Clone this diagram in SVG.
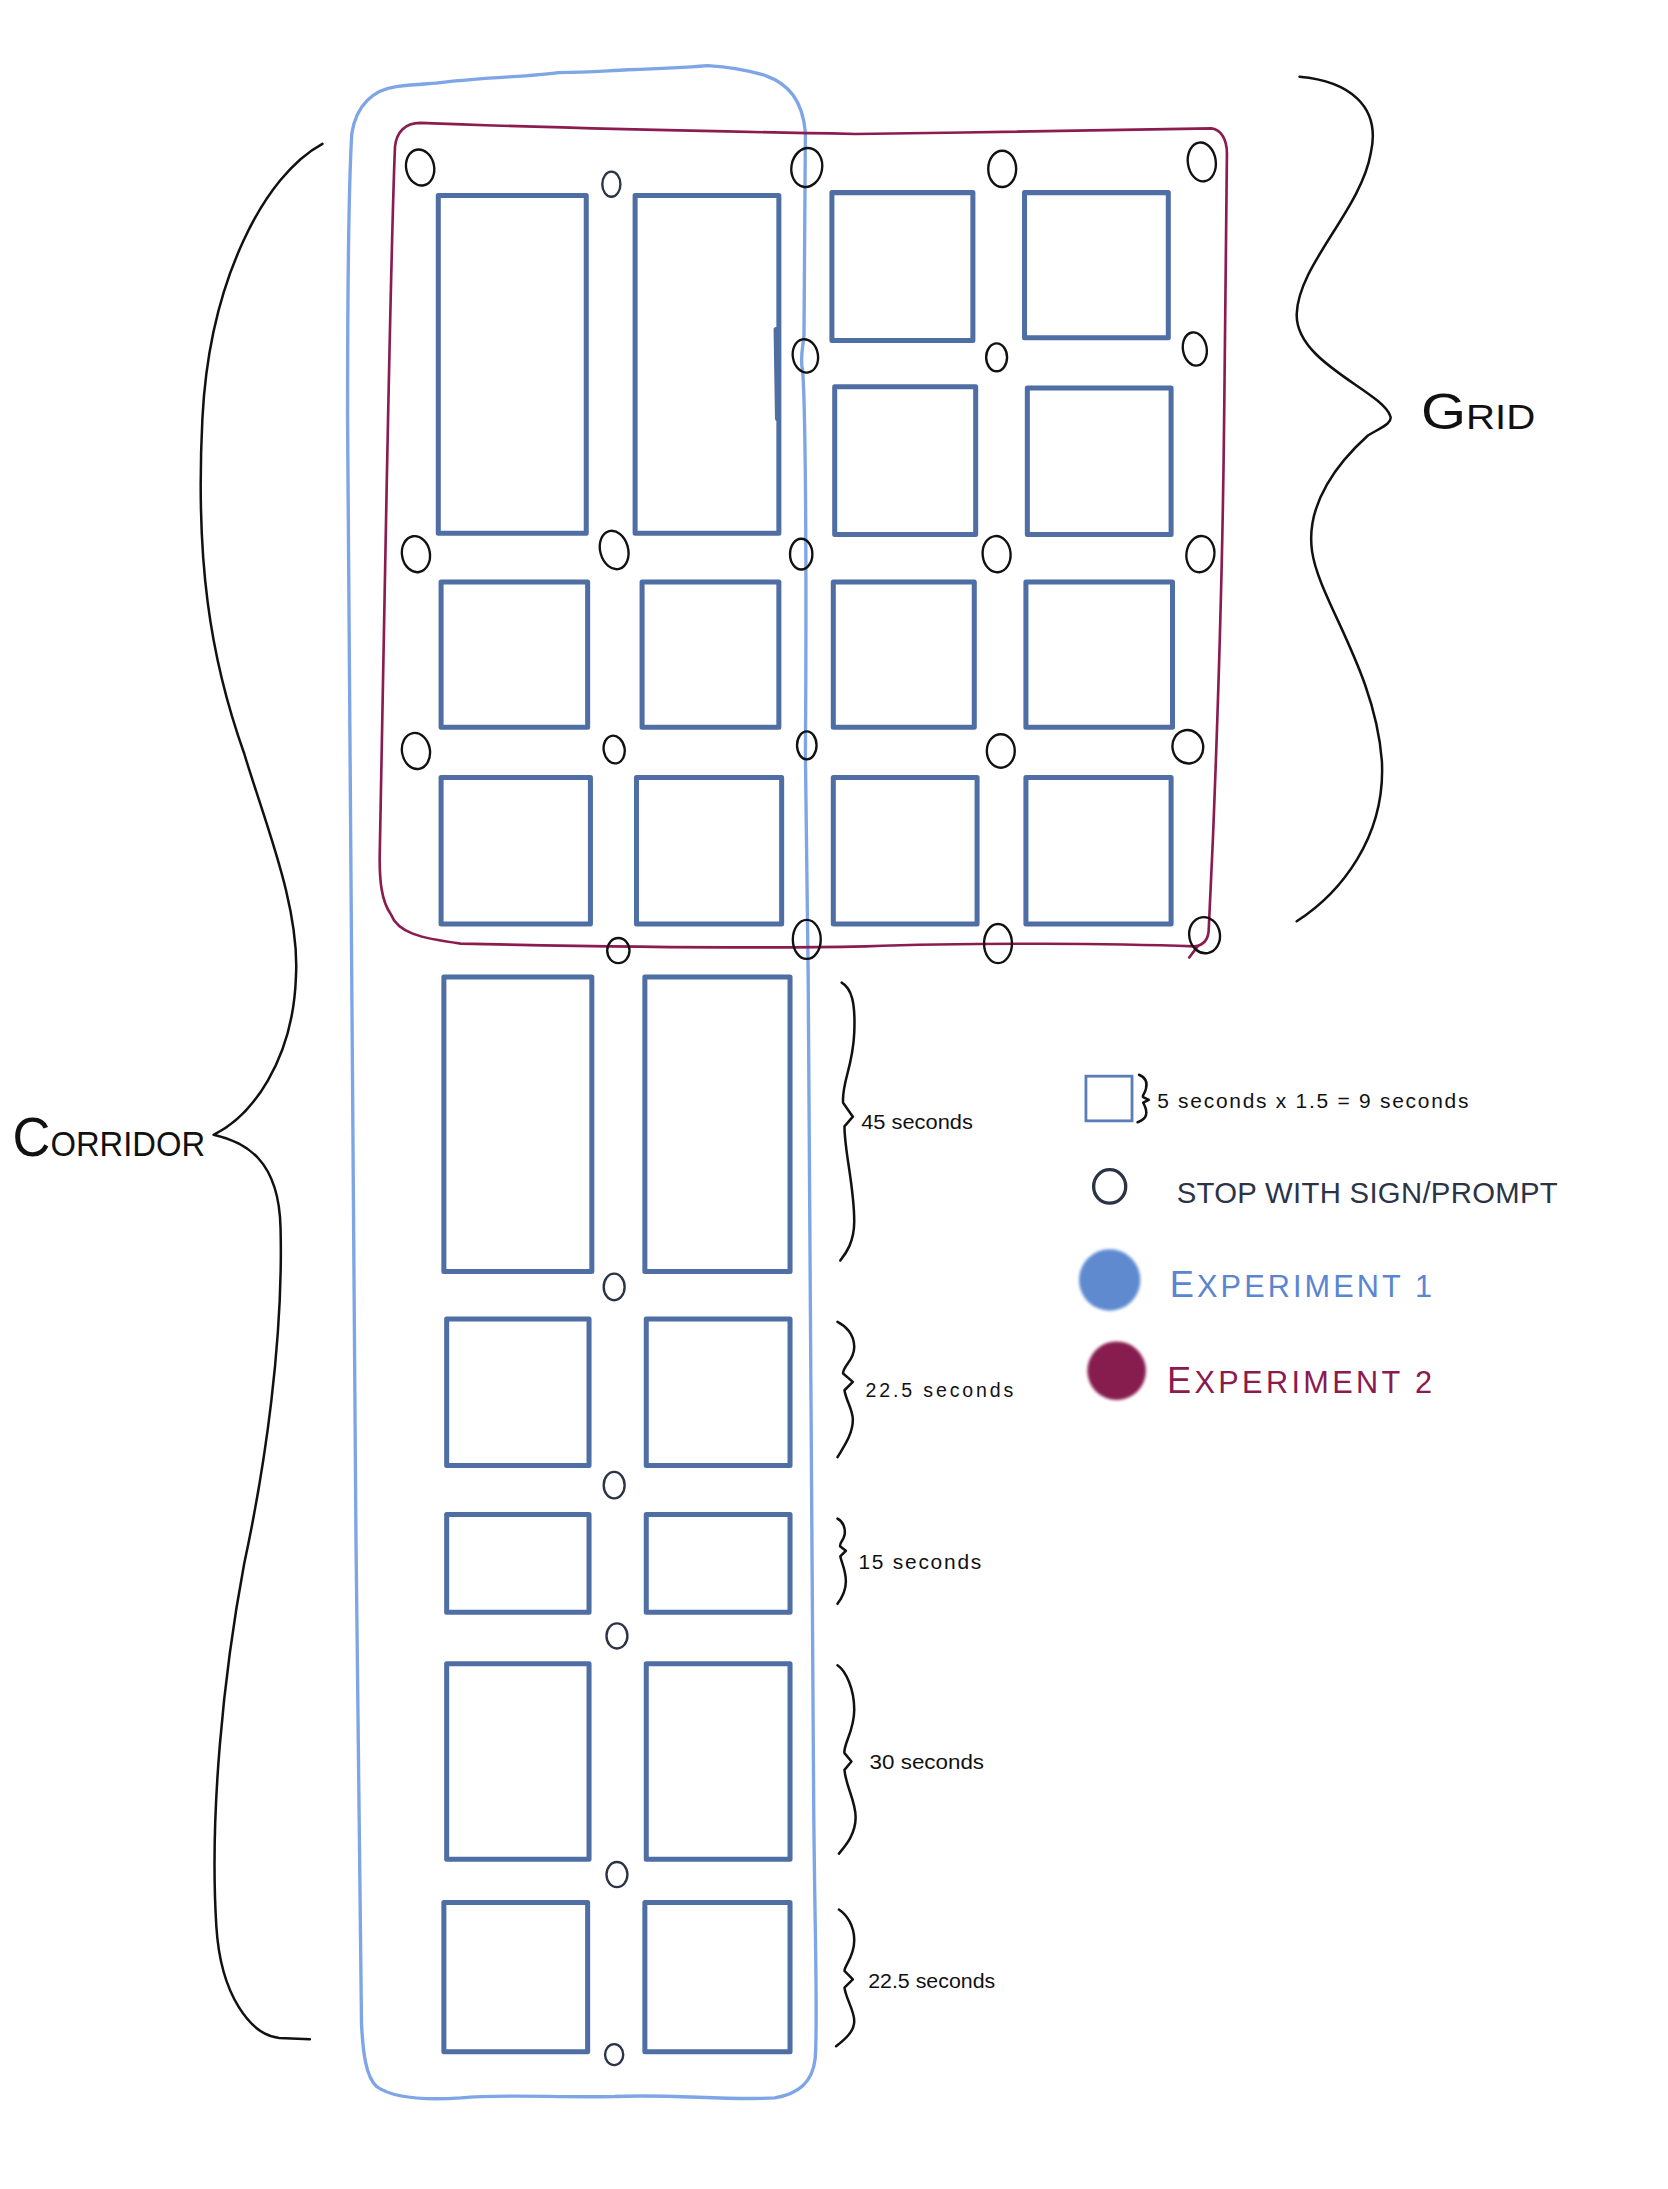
<svg xmlns="http://www.w3.org/2000/svg" width="1668" height="2189" viewBox="0 0 1668 2189">
<defs>
<style>
.room{fill:none;stroke:#4f6ea3;stroke-width:3.6;stroke-linejoin:round;stroke-linecap:round}
.stop{fill:none;stroke:#111;stroke-width:1.7}
.stopn{fill:none;stroke:#2b3446;stroke-width:1.7}
.brace{fill:none;stroke:#111;stroke-width:1.8;stroke-linecap:round;stroke-linejoin:round}
.exp1{fill:none;stroke:#7ea6e6;stroke-width:2.4;stroke-linejoin:round}
.exp2{fill:none;stroke:#8b1c50;stroke-width:1.9;stroke-linejoin:round;stroke-linecap:round}
.hand{font-family:"Liberation Sans",Arial,sans-serif;fill:#111}
</style>
<filter id="soft" x="-30%" y="-30%" width="160%" height="160%"><feGaussianBlur stdDeviation="1.3"/></filter>
</defs>
<rect width="1668" height="2189" fill="#fff"/>
<g transform="scale(1.39582)">
<!-- Experiment outlines -->
<g id="experiment1-outline">
<path class="exp1" d="M252,96 C255,75 268,64 284,62 C300,60 310,60 317,59 C350,55 380,55 400,52 C420,52 430,51 450,50 C480,49 495,48 507,47 C525,48 535,50 548,54 C565,60 575,72 577,95 L576,240 C575,250 573,258 575,265 C577,290 578,400 577,540 L579,700 C580,900 582,1100 583,1300 C584,1400 586,1450 584,1475 C582,1492 572,1500 555,1503 C520,1505 480,1500 440,1502 C400,1503 360,1500 330,1503 C300,1505 280,1502 270,1495 C262,1488 260,1470 259,1450 L255,1100 C252,800 250,500 249,300 C249,200 250,130 252,96 Z"/>
</g>
<g id="experiment2-outline">
<path class="exp2" d="M301,88 C350,90 450,93 613,96 C700,95 800,93 868,92 C875,93 879,100 879,110 L877,300 C876,400 873,500 869,600 L866,665 C866,672 863,677 856,678 C800,676 700,675 620,678 C520,680 420,678 330,676 C300,672 285,668 280,655 C273,645 272,630 272,615 L277,350 C279,250 281,150 283,105 C284,95 290,88 301,88 Z"/>
<path class="exp2" d="M858,678 L852,686"/>
</g>
<!-- Grid rooms -->
<g id="grid-rooms">
<rect id="g-r1c1" class="room" x="314" y="140" width="106" height="242"/>
<rect id="g-r1c2" class="room" x="455" y="140" width="103" height="242"/>
<path class="room" d="M556,236 L557,300"/>
<rect id="g-r1c3" class="room" x="596" y="138" width="101" height="106"/>
<rect id="g-r1c4" class="room" x="734" y="138" width="103" height="104"/>
<rect id="g-r2c3" class="room" x="598" y="277" width="101" height="106"/>
<rect id="g-r2c4" class="room" x="736" y="278" width="103" height="105"/>
<rect id="g-r3c1" class="room" x="316" y="417" width="105" height="104"/>
<rect id="g-r3c2" class="room" x="460" y="417" width="98" height="104"/>
<rect id="g-r3c3" class="room" x="597" y="417" width="101" height="104"/>
<rect id="g-r3c4" class="room" x="735" y="417" width="105" height="104"/>
<rect id="g-r4c1" class="room" x="316" y="557" width="107" height="105"/>
<rect id="g-r4c2" class="room" x="456" y="557" width="104" height="105"/>
<rect id="g-r4c3" class="room" x="597" y="557" width="103" height="105"/>
<rect id="g-r4c4" class="room" x="735" y="557" width="104" height="105"/>
</g>
<!-- Corridor rooms -->
<g id="corridor-rooms">
<rect id="c-1a" class="room" x="318" y="700" width="106" height="211"/>
<rect id="c-1b" class="room" x="462" y="700" width="104" height="211"/>
<rect id="c-2a" class="room" x="320" y="945" width="102" height="105"/>
<rect id="c-2b" class="room" x="463" y="945" width="103" height="105"/>
<rect id="c-3a" class="room" x="320" y="1085" width="102" height="70"/>
<rect id="c-3b" class="room" x="463" y="1085" width="103" height="70"/>
<rect id="c-4a" class="room" x="320" y="1192" width="102" height="140"/>
<rect id="c-4b" class="room" x="463" y="1192" width="103" height="140"/>
<rect id="c-5a" class="room" x="318" y="1363" width="103" height="107"/>
<rect id="c-5b" class="room" x="462" y="1363" width="104" height="107"/>
</g>
<!-- Stops -->
<g id="grid-stops">
<ellipse class="stop" cx="301" cy="120" rx="10" ry="13" transform="rotate(-12 301 120)"/>
<ellipse class="stopn" cx="438" cy="132" rx="6.5" ry="9"/>
<ellipse class="stop" cx="578" cy="120" rx="11" ry="14" transform="rotate(10 578 120)"/>
<ellipse class="stop" cx="718" cy="121" rx="10" ry="13"/>
<ellipse class="stop" cx="861" cy="116" rx="10" ry="14" transform="rotate(-8 861 116)"/>
<ellipse class="stop" cx="577" cy="255" rx="9" ry="12" transform="rotate(-10 577 255)"/>
<ellipse class="stop" cx="714" cy="256" rx="7.5" ry="10"/>
<ellipse class="stop" cx="856" cy="250" rx="8.5" ry="12" transform="rotate(-10 856 250)"/>
<ellipse class="stop" cx="298" cy="397" rx="10" ry="13" transform="rotate(-10 298 397)"/>
<ellipse class="stop" cx="440" cy="394" rx="10" ry="14" transform="rotate(-15 440 394)"/>
<ellipse class="stop" cx="574" cy="397" rx="8" ry="11"/>
<ellipse class="stop" cx="714" cy="397" rx="10" ry="13" transform="rotate(-5 714 397)"/>
<ellipse class="stop" cx="860" cy="397" rx="10" ry="13" transform="rotate(8 860 397)"/>
<ellipse class="stop" cx="298" cy="538" rx="10" ry="13" transform="rotate(-10 298 538)"/>
<ellipse class="stop" cx="440" cy="537" rx="7.5" ry="10" transform="rotate(-10 440 537)"/>
<ellipse class="stop" cx="578" cy="534" rx="7" ry="10"/>
<ellipse class="stop" cx="717" cy="538" rx="10" ry="12"/>
<ellipse class="stop" cx="851" cy="535" rx="11" ry="12" transform="rotate(-10 851 535)"/>
<ellipse class="stop" cx="443" cy="681" rx="8" ry="9"/>
<ellipse class="stop" cx="578" cy="673" rx="10" ry="14"/>
<ellipse class="stop" cx="715" cy="676" rx="10" ry="14"/>
<ellipse class="stop" cx="863" cy="670" rx="11" ry="13" transform="rotate(-10 863 670)"/>
</g>
<g id="corridor-stops">
<ellipse class="stopn" cx="440" cy="922" rx="7.5" ry="9.5"/>
<ellipse class="stopn" cx="440" cy="1064" rx="7.5" ry="9.5"/>
<ellipse class="stopn" cx="442" cy="1172" rx="7.5" ry="9"/>
<ellipse class="stopn" cx="442" cy="1343" rx="7.5" ry="9"/>
<ellipse class="stopn" cx="440" cy="1472" rx="6.5" ry="7.5"/>
</g>
<!-- Braces -->
<g id="braces">
<path id="brace-grid" class="brace" d="M931,55 C965,58 990,75 982,110 C975,150 930,190 929,225 C928,260 990,280 996,298 C998,303 990,306 980,312 C960,330 935,360 940,395 C945,430 985,480 990,545 C993,600 960,640 929,660"/>
<path id="brace-corridor" class="brace" d="M231,103 C190,125 150,200 145,300 C140,400 150,470 175,540 C190,590 215,650 212,700 C210,760 180,800 153,813 C175,818 200,830 201,880 C203,960 190,1050 175,1120 C160,1200 150,1300 155,1380 C158,1430 180,1458 200,1460 L222,1461"/>
<path class="brace" d="M603,704 C610,708 613,718 612,740 C611,765 603,775 604,790 L611,800 L605,807 C605,825 612,850 612,875 C612,890 606,898 602,903"/>
<path class="brace" d="M600,947 C606,950 612,956 612,965 C612,975 604,978 604,984 L611,990 L605,996 C606,1003 611,1010 611,1017 C611,1028 604,1037 600,1044"/>
<path class="brace" d="M600,1088 C604,1090 606,1095 605,1100 C604,1104 601,1106 602,1108 L606,1111 L602,1115 C603,1120 606,1125 606,1133 C606,1140 603,1145 600,1149"/>
<path class="brace" d="M600,1193 C606,1197 612,1210 612,1225 C612,1240 604,1250 605,1256 L610,1262 L605,1268 C606,1280 613,1290 613,1302 C613,1314 606,1322 601,1328"/>
<path class="brace" d="M601,1368 C607,1372 612,1380 612,1390 C612,1402 605,1408 605,1412 L611,1418 L605,1424 C606,1432 612,1440 612,1448 C612,1456 604,1462 599,1466"/>
</g>
<!-- Labels -->
<g id="labels">
<text class="hand" x="9" y="828" textLength="138" lengthAdjust="spacingAndGlyphs"><tspan font-size="40">C</tspan><tspan font-size="25">ORRIDOR</tspan></text>
<text class="hand" x="1018" y="307" textLength="82" lengthAdjust="spacingAndGlyphs"><tspan font-size="36">G</tspan><tspan font-size="25">RID</tspan></text>
<text class="hand" x="617" y="809" font-size="14" textLength="80" lengthAdjust="spacingAndGlyphs">45 seconds</text>
<text class="hand" x="620" y="1001" font-size="14" textLength="106" lengthAdjust="spacing">22.5 seconds</text>
<text class="hand" x="615" y="1124" font-size="15" textLength="88" lengthAdjust="spacing">15 seconds</text>
<text class="hand" x="623" y="1267" font-size="14" textLength="82" lengthAdjust="spacingAndGlyphs">30 seconds</text>
<text class="hand" x="622" y="1424" font-size="14" textLength="91" lengthAdjust="spacingAndGlyphs">22.5 seconds</text>
</g>
<!-- Legend -->
<g id="legend">
<g id="legend-room">
<rect x="778" y="771" width="33" height="32" fill="none" stroke="#5b7db5" stroke-width="2"/>
<path class="brace" stroke-width="1.5" d="M816,770 C821,772 822,776 821,780 C820,784 818,785 819,786 L823,788 L819,790 C820,792 822,795 821,799 C820,802 818,803 815,804"/>
<text class="hand" x="829" y="794" font-size="15" textLength="223" lengthAdjust="spacing">5 seconds x 1.5 = 9 seconds</text>
</g>
<g id="legend-stop">
<ellipse cx="795" cy="850" rx="11.5" ry="12" fill="none" stroke="#2b3446" stroke-width="2.4"/>
<text x="843" y="862" font-family="'Liberation Sans',Arial,sans-serif" font-size="21" fill="#2b3446" textLength="273" lengthAdjust="spacing">STOP  WITH  SIGN/PROMPT</text>
</g>
<g id="legend-exp1">
<circle cx="795" cy="917" r="22" fill="#5f8ad0" filter="url(#soft)"/>
<text x="838" y="929" font-family="'Liberation Sans',Arial,sans-serif" fill="#5b86cf" textLength="188" lengthAdjust="spacing"><tspan font-size="26">E</tspan><tspan font-size="22">XPERIMENT 1</tspan></text>
</g>
<g id="legend-exp2">
<circle cx="800" cy="982" r="21" fill="#871c4f" filter="url(#soft)"/>
<text x="836" y="998" font-family="'Liberation Sans',Arial,sans-serif" fill="#8b1a4f" textLength="190" lengthAdjust="spacing"><tspan font-size="26">E</tspan><tspan font-size="22">XPERIMENT  2</tspan></text>
</g>
</g>
</g>
</svg>
